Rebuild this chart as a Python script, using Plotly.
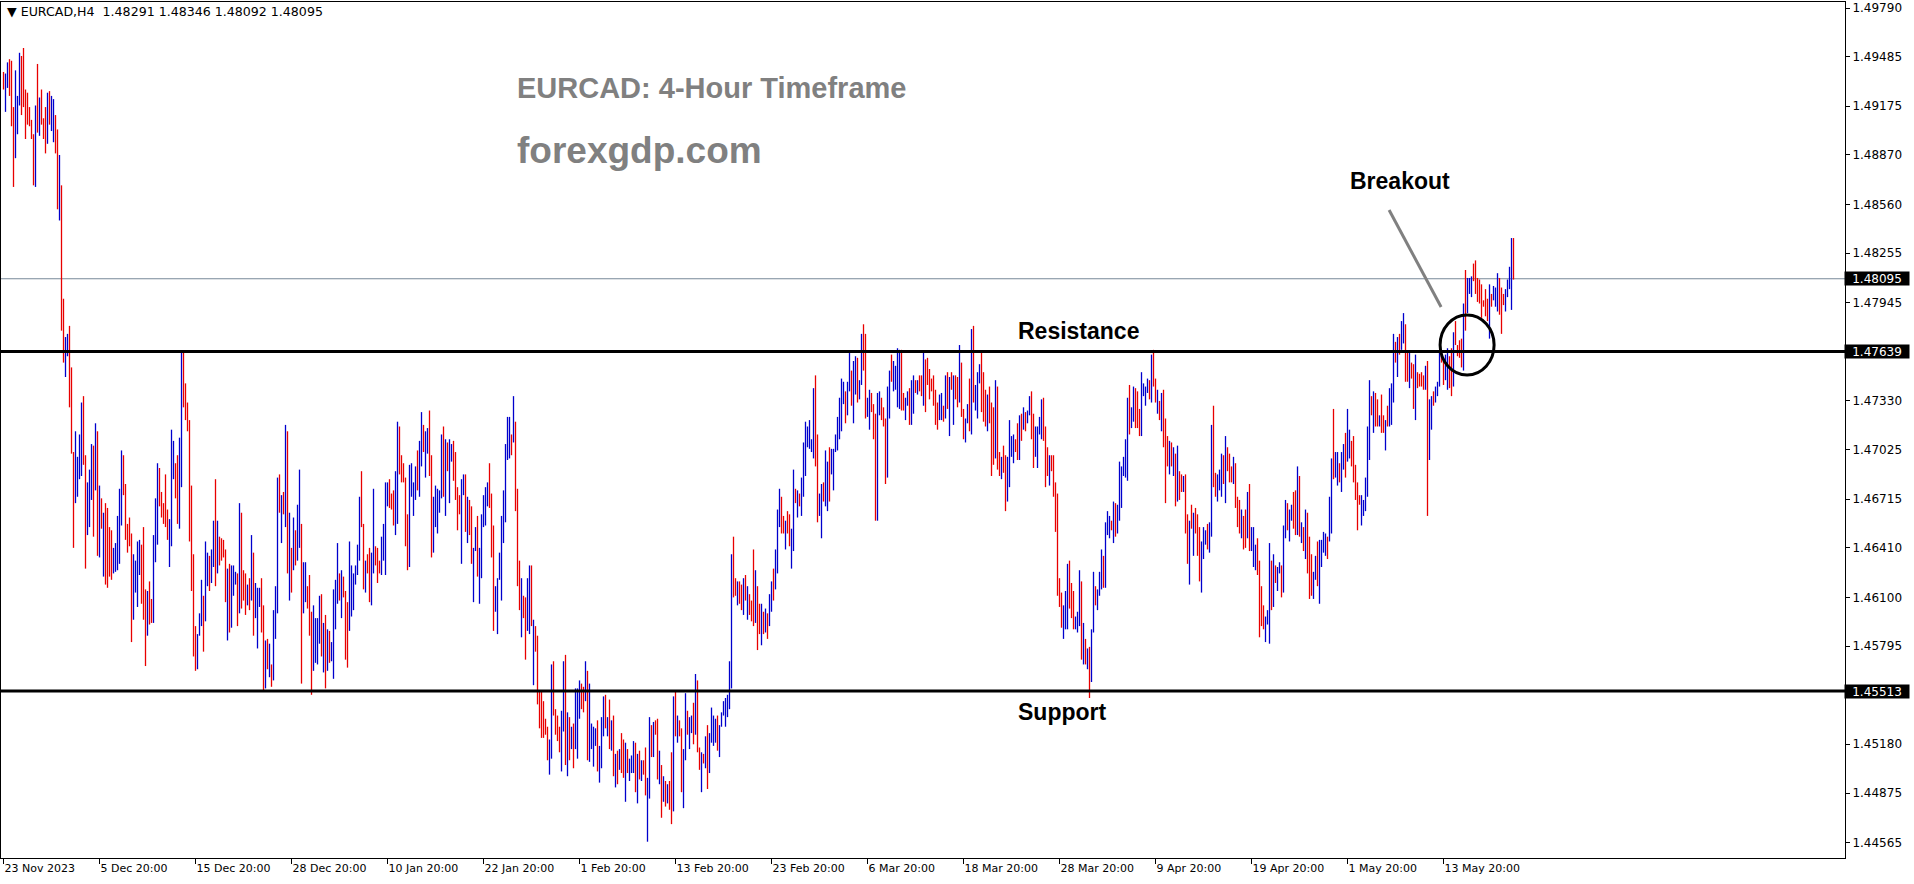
import plotly.graph_objects as go

# ---------------- data (prices stored as pips above BASE) ----------------
BASE = 1.4
PIP = 0.0001

highs = [
    939, 938, 945, 947, 946, 917, 940, 924, 951, 949,
    954, 928, 926, 917, 909, 900, 918, 944, 923, 928,
    910, 917, 926, 927, 924, 922, 912, 903, 887, 868,
    797, 773, 775, 780, 754, 701, 714, 698, 712, 732,
    736, 699, 682, 690, 706, 705, 719, 714, 680, 672,
    663, 669, 666, 654, 652, 641, 644, 661, 678, 702,
    699, 681, 656, 660, 650, 637, 633, 645, 646, 643,
    654, 615, 614, 620, 609, 649, 672, 694, 691, 676,
    669, 687, 665, 659, 715, 708, 694, 699, 710, 764,
    764, 744, 732, 721, 680, 637,
    592, 587, 600, 621, 611, 645, 638, 636, 640, 658,
    684, 658, 648, 647, 646, 640, 628, 631, 630, 630,
    626, 625, 669, 663, 627, 625, 618, 622, 649, 638,
    619, 616, 616, 622, 605, 583, 584, 581, 568, 602,
    617, 685, 687, 674, 676, 718, 714, 663, 641, 660,
    652, 668, 690, 656, 632, 632, 617, 624, 601, 605,
    597, 597, 611, 612, 594, 599, 590, 589, 582, 615,
    621, 644, 625, 627, 623, 614, 607, 645, 630, 625,
    630, 643, 673, 689, 656, 633, 637, 641, 638, 678,
    642, 641, 633, 648, 656,
    682, 682, 684, 675, 677, 689, 720, 717, 699, 694,
    685, 662, 693, 694, 682, 692, 702, 708, 726, 718,
    714, 716, 727, 699, 673, 680, 678, 677, 712, 717,
    709, 707, 709, 706, 708, 701, 679, 674, 684, 687,
    687, 673, 671, 667, 641, 654, 661, 641, 662, 674,
    679, 682, 694, 675, 655, 617, 622, 638, 661, 677,
    706, 723, 723, 712, 736, 720, 678, 633, 622, 611,
    610, 622, 630, 630, 596, 592, 586, 552, 551, 545,
    534, 529, 521, 568, 570, 540, 536, 529, 539, 570,
    574, 538, 535, 529, 531,
    553, 553, 558, 556, 554, 570, 564, 556, 531, 529,
    528, 533, 517, 535, 548, 549, 535, 546, 533, 536,
    512, 514, 515, 525, 521, 519, 515, 509, 511, 520,
    519, 512, 514, 508, 508, 516, 497, 535, 530, 532,
    533, 534, 514, 505, 498, 495, 493, 495, 513, 548,
    552, 536, 533, 528, 515, 550, 539, 535, 536, 544,
    562, 558, 516, 513, 512, 523, 530, 525, 541, 536,
    534, 536, 530, 538, 545, 547, 549, 570, 637, 648,
    622, 620, 620, 618, 622, 624, 617, 612, 608, 640,
    627, 617, 606, 606, 601,
    603, 600, 612, 620, 628, 640,
    665, 678, 673, 661, 658, 664, 662, 653, 690, 678,
    677, 675, 685, 707, 720, 717, 721, 709, 741, 749,
    712, 675, 681, 682, 702, 695, 704, 703, 703, 712,
    723, 735, 747, 745, 739, 745, 763, 752, 758, 761,
    760, 746, 775, 781, 775, 735, 740, 738, 731, 725,
    738, 739, 735, 729, 722, 742, 752, 762, 758, 755,
    766, 765, 765, 738, 735, 739, 741, 746, 749, 746,
    746, 749, 749, 763, 759, 760, 753, 747, 749, 740,
    732, 737, 738, 730, 749, 751, 748,
    751, 749, 749, 748, 768, 757, 728, 722, 731, 747,
    778, 780, 743, 751, 756, 763, 751, 740, 737, 742,
    732, 729, 746, 742, 701, 698, 705, 699, 698, 721,
    711, 712, 709, 719, 724, 725, 729, 726, 727, 736,
    739, 725, 717, 717, 723, 734, 735, 717, 704, 699,
    699, 699, 682, 675, 622, 613, 605, 614, 631, 633,
    619, 614, 598, 601, 627, 620, 594, 584, 578, 579,
    590, 626, 617, 615, 626, 640, 636, 657, 664, 661,
    658, 670, 669, 668, 695, 692, 698, 709, 735, 743,
    729, 742,
    741, 739, 728, 751, 744, 742, 747, 746, 762, 765,
    747, 740, 733, 738, 740, 722, 711, 708, 707, 704,
    700, 705, 689, 687, 686, 687, 662, 658, 668, 663,
    666, 662, 654, 645, 654, 652, 656, 657, 718, 730,
    688, 687, 690, 700, 699, 711, 704, 700, 692, 698,
    694, 673, 671, 665, 661, 665, 676, 681, 654, 654,
    643, 647, 633, 617, 605, 598, 602, 644, 633, 637,
    630, 629, 632, 630, 655, 671, 669, 665, 668, 676,
    677, 692, 686, 657, 654, 665, 663, 648, 637, 626,
    636, 645, 646, 646, 651, 650, 648,
    673, 697, 728, 701, 701, 694, 701, 706, 713, 728,
    715, 708, 711, 693, 682, 674, 674, 671, 685, 717,
    746, 736, 739, 738, 734, 724, 737, 724, 721, 730,
    741, 744, 775, 770, 773, 775, 783, 788, 781, 763,
    763, 757, 756, 762, 751, 750, 751, 749, 755, 758,
    734, 736, 739, 742, 745, 765, 763, 758, 762, 766,
    761, 766, 776, 783, 768, 771, 772, 794, 815, 810,
    810, 811, 819, 821, 810, 809, 806, 796, 803, 797,
    806, 800, 805, 804, 813, 810, 804, 800, 803, 809,
    817, 835, 835,
]

lows = [
    928, 914, 929, 924, 905, 867, 885, 900, 918, 912,
    917, 897, 906, 905, 897, 868, 867, 901, 899, 906,
    897, 888, 894, 906, 902, 895, 888, 853, 846, 777,
    757, 748, 761, 729, 700, 641, 669, 673, 684, 686,
    693, 628, 649, 654, 671, 648, 677, 636, 635, 653,
    623, 618, 616, 623, 621, 625, 626, 627, 631, 655,
    674, 646, 638, 642, 582, 596, 613, 604, 624, 606,
    596, 567, 586, 593, 594, 594, 632, 643, 667, 660,
    656, 654, 646, 629, 642, 684, 672, 656, 653, 679,
    729, 721, 714, 645, 614, 573,
    564, 565, 586, 592, 576, 595, 617, 614, 619, 629,
    617, 625, 630, 633, 635, 607, 583, 588, 591, 611,
    618, 592, 600, 603, 608, 599, 605, 602, 608, 586,
    597, 578, 604, 588, 552, 553, 565, 560, 554, 558,
    584, 600, 663, 644, 662, 654, 625, 608, 613, 627,
    630, 633, 641, 556, 600, 607, 603, 586, 549, 564,
    569, 568, 581, 573, 563, 553, 564, 569, 570, 559,
    590, 606, 608, 597, 610, 571, 566, 589, 598, 602,
    618, 624, 633, 654, 615, 613, 625, 607, 605, 625,
    630, 619, 625, 624, 633,
    624, 667, 666, 665, 655, 649, 656, 687, 682, 682,
    642, 627, 629, 673, 661, 671, 677, 673, 692, 701,
    685, 700, 686, 635, 638, 654, 650, 663, 672, 673,
    661, 689, 669, 695, 683, 671, 652, 662, 631, 674,
    651, 644, 649, 631, 607, 639, 623, 606, 622, 654,
    655, 667, 666, 635, 589, 601, 587, 621, 608, 644,
    657, 696, 697, 699, 707, 664, 617, 602, 585, 597,
    571, 589, 587, 592, 555, 576, 543, 528, 522, 522,
    524, 508, 499, 509, 536, 524, 520, 513, 501, 526,
    505, 498, 508, 515, 503,
    515, 509, 534, 540, 538, 545, 508, 507, 515, 504,
    517, 501, 494, 503, 523, 528, 523, 515, 514, 498,
    491, 493, 502, 500, 497, 482, 500, 495, 500, 500,
    488, 481, 496, 495, 499, 486, 457, 484, 510, 510,
    524, 496, 493, 472, 482, 479, 481, 477, 468, 476,
    523, 519, 523, 488, 478, 508, 524, 515, 525, 518,
    524, 513, 502, 488, 506, 503, 490, 500, 519, 517,
    519, 514, 510, 529, 536, 529, 535, 540, 553, 610,
    611, 605, 606, 602, 599, 608, 596, 599, 595, 592,
    594, 577, 587, 580, 587,
    588, 584, 592, 601, 608, 615,
    625, 654, 650, 650, 640, 650, 642, 628, 639, 669,
    660, 667, 661, 673, 686, 704, 703, 701, 697, 692,
    657, 661, 647, 670, 667, 664, 670, 687, 677, 701,
    702, 709, 714, 731, 719, 724, 739, 730, 719, 737,
    732, 734, 743, 752, 722, 723, 715, 726, 709, 658,
    658, 724, 721, 717, 681, 685, 722, 745, 739, 740,
    729, 728, 727, 727, 721, 730, 718, 718, 725, 738,
    737, 739, 736, 730, 726, 743, 734, 739, 730, 718,
    715, 721, 721, 720, 722, 728, 711,
    740, 718, 734, 729, 732, 723, 709, 707, 719, 714,
    712, 732, 727, 722, 744, 726, 720, 717, 714, 719,
    686, 693, 697, 690, 686, 684, 688, 664, 670, 679,
    698, 694, 701, 696, 696, 708, 715, 714, 719, 724,
    709, 691, 698, 691, 712, 709, 708, 679, 686, 680,
    689, 673, 651, 611, 604, 591, 584, 590, 590, 603,
    597, 590, 590, 588, 592, 571, 568, 568, 565, 547,
    557, 588, 605, 602, 611, 615, 616, 616, 649, 647,
    652, 644, 648, 650, 658, 666, 686, 685, 683, 712,
    716, 720,
    716, 716, 711, 711, 736, 730, 738, 734, 732, 742,
    732, 725, 721, 714, 704, 669, 692, 687, 692, 686,
    667, 670, 671, 676, 676, 650, 631, 618, 653, 636,
    650, 636, 620, 613, 634, 643, 640, 638, 648, 679,
    673, 670, 677, 673, 681, 669, 689, 682, 682, 681,
    666, 654, 650, 647, 640, 641, 647, 639, 639, 629,
    627, 624, 585, 592, 590, 582, 593, 581, 602, 604,
    619, 614, 625, 610, 613, 647, 652, 645, 658, 653,
    649, 649, 648, 644, 639, 634, 625, 609, 611, 609,
    621, 617, 606, 629, 638, 636, 634,
    645, 650, 684, 685, 680, 682, 676, 690, 685, 695,
    697, 692, 682, 671, 652, 668, 655, 661, 664, 673,
    696, 724, 713, 717, 717, 717, 713, 713, 702, 717,
    717, 718, 732, 757, 748, 762, 765, 769, 745, 745,
    741, 747, 728, 721, 741, 742, 742, 740, 740, 661,
    696, 715, 730, 732, 736, 742, 757, 743, 746, 740,
    741, 736, 742, 768, 761, 760, 754, 752, 777, 788,
    800, 798, 808, 800, 795, 794, 785, 792, 786, 783,
    772, 792, 796, 792, 789, 787, 775, 793, 789, 798,
    803, 790, 809,
]

# B = bullish bar (blue), R = bearish bar (red)
direction = (
    "RBBRRRBBBR" "RRRRRRBRBR" "RRBRBBRRBR" "RBBRRRBBBB" "RRBBBRBRBR"
    "BRRRRBBBBB" "RRRRRBBBBR" "RRBRRBBBRR" "RRRBBBRRBB" "RRRRRR"
    "RBBBRBBRBB" "RBRRRRBRBB" "BRBRRRBRBR" "BBBRRBRBRB" "BBRBRBRBRB"
    "RBBRBBRRRB" "BBBRBRBRBB" "BBRBRRRBBB" "BBBRRBRRBB" "RRRBB"
    "BBRRRBBRRR" "RRBBBBRBBR" "BBRRBBBBBR" "BRBBRRRRBB" "RBRRBBRBBB"
    "BBRRRBBBBB" "BBBRBRRRBR" "RBBRBRRRRR" "RRBBRRRRBB" "RBRBR"
    "BBBRRBRBBB" "BRBBBRBRBR" "BRBRRBRBBB" "RBRBRRBBRB" "RRBRBRBRRB"
    "RBRRBBRBBR" "BRRBRBRBBB" "BRBBBBBBBR" "RBRRBRBRRR" "BRRBR"
    "BRBBRB"
    "BBRRBRRBBR" "BRBBBBBBBR" "RBBRBBRBBB" "BBBBRBBRBB" "RBBRRBBRRR"
    "BBRRRBBRBB" "BBRRBBRBBR" "BRRBRRRRRR" "RBBRBRB"
    "RBRRBRRBBR" "BRBBBRRRBR" "RRBRRBRRBB" "BBRRBRBRBB" "RRBBBBRRRB"
    "RRRRRRBBBR" "RRBBBRBRBR" "BBRBBBRBBB" "RBRBBBBBBR" "BB"
    "RRRBBBBRBR" "RBRBRRRBRB" "RBRRBRRBRB" "RRRBBBRBBR" "RBBBRBRRRB"
    "RRRBRRBRBB" "BRRRRBBBRB" "RBBRBBRBBR" "RBRBRBRRRB" "BRBBBBR"
    "BBRBBRBBRB" "BRRRRRBBBB" "BRBRRBRRBR" "BBBRBRBBRR" "BRRBRRRRBR"
    "BBRBBBRRBB" "RRBRRRRBRB" "BBRRRRRRRR" "BRBBBRRRBB" "BBR"
)

# axis labels / reference levels
x_tick_bars = [0, 48, 96, 144, 192, 240, 288, 336, 384, 432, 480, 528, 576, 624, 672, 720]
x_tick_text = ["23 Nov 2023", "5 Dec 20:00", "15 Dec 20:00", "28 Dec 20:00", "10 Jan 20:00",
               "22 Jan 20:00", "1 Feb 20:00", "13 Feb 20:00", "23 Feb 20:00", "6 Mar 20:00",
               "18 Mar 20:00", "28 Mar 20:00", "9 Apr 20:00", "19 Apr 20:00", "1 May 20:00",
               "13 May 20:00"]
y_tick_vals = [1.49790, 1.49485, 1.49175, 1.48870, 1.48560, 1.48255, 1.47945, 1.47330,
               1.47025, 1.46715, 1.46410, 1.46100, 1.45795, 1.45180, 1.44875, 1.44565]
resistance = 1.47639
support = 1.45513
last_price = 1.48095
last_ohlc = [1.48291, 1.48346, 1.48092, 1.48095]
symbol = "EURCAD,H4"

# ---------------- build figure ----------------
BLUE = "#0000cc"
RED = "#e80000"

n = min(len(highs), len(lows), len(direction))
xb, yb, xr, yr = [], [], [], []
for i in range(n):
    lo = BASE + lows[i] * PIP
    hi = BASE + highs[i] * PIP
    if direction[i] == "B":
        xb += [i, i, None]
        yb += [lo, hi, None]
    else:
        xr += [i, i, None]
        yr += [lo, hi, None]

fig = go.Figure()
fig.add_trace(go.Scatter(x=xb, y=yb, mode="lines", line=dict(color=BLUE, width=1.3),
                         hoverinfo="skip", showlegend=False))
fig.add_trace(go.Scatter(x=xr, y=yr, mode="lines", line=dict(color=RED, width=1.3),
                         hoverinfo="skip", showlegend=False))

W, H = 1914, 884
ML, MR, MT, MB = 1, 69, 2, 26
PX_PER_BAR = 2.0
x0 = -1.25
x1 = x0 + (W - ML - MR) / PX_PER_BAR
y_lo, y_hi = 1.44468, 1.49828

shapes = [
    dict(type="line", xref="paper", x0=0, x1=1, yref="y", y0=last_price, y1=last_price,
         line=dict(color="#778899", width=1), layer="below"),
    dict(type="line", xref="paper", x0=0, x1=1, yref="y", y0=resistance, y1=resistance,
         line=dict(color="black", width=3)),
    dict(type="line", xref="paper", x0=0, x1=1, yref="y", y0=support, y1=support,
         line=dict(color="black", width=3)),
    dict(type="circle", xref="x", yref="y", x0=718.3, x1=745.3, y0=1.47492, y1=1.47868,
         line=dict(color="black", width=3)),
    dict(type="line", xref="x", yref="y", x0=692.8, y0=1.48526, x1=718.8, y1=1.47918,
         line=dict(color="#808080", width=3)),
]

annotations = []
header = "\u25bc " + symbol + "  " + " ".join(f"{v:.5f}" for v in last_ohlc)
annotations.append(dict(xref="paper", yref="paper", x=0, y=1, xanchor="left", yanchor="top",
                        xshift=4, yshift=0, text=header, showarrow=False,
                        font=dict(family="DejaVu Sans", size=12.6, color="black")))
annotations.append(dict(xref="x", yref="y", x=255.8, y=1.49290, xanchor="left", yanchor="middle",
                        text="EURCAD: 4-Hour Timeframe", showarrow=False,
                        font=dict(family="Liberation Sans", size=29, color="#808080", weight="bold")))
annotations.append(dict(xref="x", yref="y", x=255.8, y=1.48897, xanchor="left", yanchor="middle",
                        text="forexgdp.com", showarrow=False,
                        font=dict(family="Liberation Sans", size=37, color="#808080", weight="bold")))
for txt, bx, py in [("Resistance", 537.3, 1.47768), ("Support", 529.3, 1.45385),
                    ("Breakout", 698.3, 1.48707)]:
    annotations.append(dict(xref="x", yref="y", x=bx, y=py, xanchor="center", yanchor="middle",
                            text=txt, showarrow=False,
                            font=dict(family="Liberation Sans", size=23, color="black", weight="bold")))
for lvl in [last_price, resistance, support]:
    annotations.append(dict(xref="paper", yref="y", x=1, y=lvl, xanchor="left", yanchor="middle",
                            xshift=-1, text=f"{lvl:.5f}", showarrow=False, bgcolor="black",
                            width=64, height=13, align="center", borderpad=0,
                            font=dict(family="DejaVu Sans", size=12, color="white")))

fig.update_layout(
    width=W, height=H,
    margin=dict(l=ML, r=MR, t=MT, b=MB, pad=0),
    paper_bgcolor="white", plot_bgcolor="white",
    showlegend=False, hovermode=False,
    shapes=shapes, annotations=annotations,
)
fig.update_xaxes(range=[x0, x1], tickmode="array", tickvals=x_tick_bars, ticktext=x_tick_text,
                 ticks="outside", ticklen=5, tickcolor="black", tickwidth=1,
                 ticklabelposition="outside right",
                 showline=True, linecolor="black", linewidth=1, mirror=True,
                 showgrid=False, zeroline=False,
                 tickfont=dict(family="DejaVu Sans", size=11, color="black"))
fig.update_yaxes(range=[y_lo, y_hi], side="right", tickmode="array", tickvals=y_tick_vals,
                 ticktext=[f"{v:.5f}" for v in y_tick_vals],
                 ticks="outside", ticklen=4, tickcolor="black", tickwidth=1,
                 showline=True, linecolor="black", linewidth=1, mirror=True,
                 showgrid=False, zeroline=False,
                 tickfont=dict(family="DejaVu Sans", size=12, color="black"))

fig.write_html("out.html", config={"displayModeBar": False},
               post_script="document.body.style.margin='0';document.body.style.overflow='hidden';")
